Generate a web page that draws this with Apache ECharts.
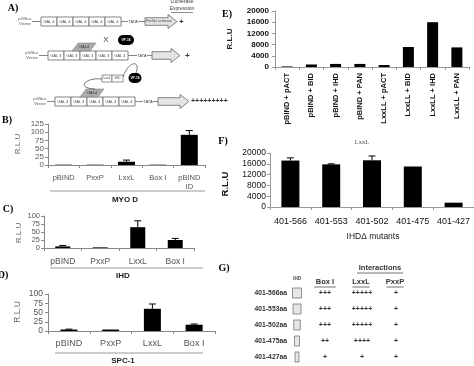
<!DOCTYPE html>
<html><head><meta charset="utf-8">
<script src="https://cdn.jsdelivr.net/npm/echarts@6/dist/echarts.min.js"></script>
<style>html,body{margin:0;padding:0;background:#fff}#c{width:474px;height:366px}</style>
</head><body><div id="c"></div>
<script>
// ---- data ----
const catsB = ['pBIND','PxxP','LxxL','Box I','pBIND\nID'];
const valsB = [1, 1, 10, 1, 92];
const errB  = [null, null, 15, null, 105];
const ticksB = [0, 25, 50, 75, 100, 125];

const catsC = ['pBIND','PxxP','LxxL','Box I'];
const valsC = [5, 2, 65, 25];
const errC  = [8, null, 85, 30];
const ticksC = [0, 25, 50, 75, 100];

const catsD = ['pBIND','PxxP','LxxL','Box I'];
const valsD = [4, 4, 60, 17];
const errD  = [5, null, 73, 19];
const ticksD = [0, 25, 50, 75, 100];

const catsE = ['pBIND + pACT','pBIND + BID','pBIND + IHD','pBIND + PAN','LxxLL + pACT','LxxLL + BID','LxxLL + IHD','LxxLL + PAN'];
const valsE = [200, 900, 1100, 1100, 700, 7150, 16000, 7000];
const ticksE = [0, 4000, 8000, 12000, 16000, 20000];

const catsF = ['401-566','401-553','401-502','401-475','401-427'];
const valsF = [17200, 15800, 17300, 15000, 1600];
const errF  = [18200, 16000, 18900, null, null];
const ticksF = [0, 4000, 8000, 12000, 16000, 20000];

const rowsG  = ['401-566aa','401-553aa','401-502aa','401-475aa','401-427aa'];
const boxIG  = ['+++','+++','+++','++','+'];
const lxxlG  = ['+++++','+++++','+++++','++++','+'];
const pxxpG  = ['+','+','+','+','+'];
const colsG  = ['Box I','LxxL','PxxP'];

// ---- chart ----
const chart = echarts.init(document.getElementById('c'), null, {renderer:'canvas'});
const SANS = 'Liberation Sans, Arial, sans-serif';
const SERIF = 'Liberation Serif, Times New Roman, serif';

function xAx(gi, cats, o) {
  return {type:'category', gridIndex:gi, data:cats, boundaryGap:true,
    axisLine:{show:true, lineStyle:{color:o.axisColor||'#888', width:1}},
    axisTick:{show:true, length:3, lineStyle:{color:o.axisColor||'#888'}},
    axisLabel:Object.assign({interval:0, color:o.color||'#555', fontSize:o.fs||8, fontFamily:SANS, margin:o.margin||8, lineHeight:o.lh||9, hideOverlap:false}, o.label||{})};
}
function yAx(gi, ticks, o) {
  return {type:'value', gridIndex:gi, min:ticks[0], max:ticks[ticks.length-1], interval:ticks[1]-ticks[0],
    axisLine:{show:true, lineStyle:{color:o.axisColor||'#888', width:1}},
    axisTick:{show:true, length:3, lineStyle:{color:o.axisColor||'#888'}},
    splitLine:{show:false},
    axisLabel:{color:o.color||'#555', fontSize:o.fs||8, lineHeight:o.lh||7, fontFamily:SANS, margin:o.margin||5, fontWeight:o.fw||'normal',
      formatter:(v) => String(v), showMinLabel:true, showMaxLabel:true, hideOverlap:false}};
}
function bars(i, vals, bw) {
  return {type:'bar', xAxisIndex:i, yAxisIndex:i, data:vals, barWidth:bw, itemStyle:{color:'#000'}, silent:true, animation:false};
}
function errs(i, vals, err) {
  const d = [];
  err.forEach((e, k) => { if (e != null) d.push([k, vals[k], e]); });
  return {type:'custom', xAxisIndex:i, yAxisIndex:i, data:d, z:5, animation:false, silent:true,
    renderItem:(params, api) => {
      const p0 = api.coord([api.value(0), api.value(1)]);
      const p1 = api.coord([api.value(0), api.value(2)]);
      const w = 3.5;
      return {type:'group', children:[
        {type:'line', shape:{x1:p0[0], y1:p0[1], x2:p1[0], y2:p1[1]}, style:{stroke:'#000', lineWidth:1}},
        {type:'line', shape:{x1:p1[0]-w, y1:p1[1], x2:p1[0]+w, y2:p1[1]}, style:{stroke:'#000', lineWidth:1}}
      ]};
    }};
}

// ---- diagram helpers (panel A) ----
const G = [];
function txt(x, y, s, o) {
  o = o || {};
  G.push({type:'text', x:x, y:y, rotation:o.rot||0, z:10, style:{text:s, fontSize:o.fs||8, fontFamily:o.ff||SANS, fontWeight:o.fw||'normal',
    fill:o.color||'#000', textAlign:o.align||'center', textVerticalAlign:'middle', lineHeight:o.lh}});
}
function line(x1, y1, x2, y2, c, w) {
  G.push({type:'line', shape:{x1, y1, x2, y2}, style:{stroke:c||'#666', lineWidth:w||0.8}});
}
function construct(x0, y0, vecX, tataX, arrX, arrLen, label, plusX, plusTxt) {
  const bw = 16, bh = 9, cy = y0 + bh/2;
  txt(vecX, cy, 'pG5luc\nVector', {fs:4.2, color:'#555', lh:4.6});
  line(vecX+7, cy, x0, cy);
  for (let k = 0; k < 5; k++) {
    G.push({type:'rect', shape:{x:x0+k*bw, y:y0, width:bw, height:bh}, style:{fill:'#fff', stroke:'#666', lineWidth:0.8}});
    txt(x0+k*bw+bw/2, cy, 'GAL 4', {fs:3.8, color:'#444'});
  }
  line(x0+5*bw, cy, tataX-5, cy);
  txt(tataX, cy, 'TATA', {fs:4, color:'#444'});
  line(tataX+5, cy, arrX, cy);
  const hb = 3.8, hh = 7, head = 9;
  G.push({type:'polygon', shape:{points:[[arrX, cy-hb],[arrX+arrLen-head, cy-hb],[arrX+arrLen-head, cy-hh],[arrX+arrLen, cy],
    [arrX+arrLen-head, cy+hh],[arrX+arrLen-head, cy+hb],[arrX, cy+hb]]}, style:{fill:'#e4e4e4', stroke:'#666', lineWidth:0.8}});
  if (label) txt(arrX+arrLen/2-2, cy, label, {fs:3.4, color:'#444'});
  txt(plusX, cy, plusTxt, {fs:plusTxt.length > 2 ? 7 : 8, color:'#333', align:'left', fw:'bold'});
}
function gal4(xb, yb) {
  G.push({type:'polygon', shape:{points:[[xb, yb],[xb+6, yb-8],[xb+24, yb-8],[xb+18, yb]]}, style:{fill:'#aaa', stroke:'#888', lineWidth:0.6}});
  txt(xb+12, yb-4, 'GAL4', {fs:4, color:'#333'});
}
function vp16(cx, cy, rx, ry) {
  G.push({type:'rect', shape:{x:cx-rx, y:cy-ry, width:2*rx, height:2*ry, r:ry}, style:{fill:'#000'}, z:10});
  txt(cx, cy, 'VP-16', {fs:3.3, color:'#fff', fw:'bold'});
}

// Panel A
txt(13, 8, 'A)', {fs:10, ff:SERIF, fw:'bold', align:'center'});
txt(182, 2, 'Luciferase', {fs:5, color:'#444'});
txt(182, 9, 'Expression', {fs:5, color:'#444'});
line(171, 12.5, 193, 12.5, '#444', 0.6);
construct(41, 17, 25, 133, 145, 32, 'Firefly Luciferase', 179, '+');
construct(48, 51, 32, 142, 152, 28, '', 185, '+');
gal4(72, 51);
txt(106, 40, 'X', {fs:8, color:'#444'});
vp16(126, 40, 8, 5);
construct(55, 97, 40, 148, 158, 31, '', 191, '+++++++++');
gal4(80, 97);
G.push({type:'bezierCurve', shape:{x1:95, y1:89, cpx1:75, cpy1:88, cpx2:86, cpy2:77, x2:102, y2:79}, style:{stroke:'#555', lineWidth:0.8, fill:null}});
G.push({type:'rect', shape:{x:102, y:75, width:10, height:7}, style:{fill:'#fff', stroke:'#666', lineWidth:0.7}});
G.push({type:'rect', shape:{x:112, y:75, width:11, height:7}, style:{fill:'#fff', stroke:'#666', lineWidth:0.7}});
txt(107, 78.5, 'LxxL', {fs:3.4, color:'#444'});
txt(117.5, 78.5, 'IHD', {fs:3.4, color:'#444'});
G.push({type:'bezierCurve', shape:{x1:123, y1:77, cpx1:129, cpy1:60, cpx2:141, cpy2:60, x2:136, y2:73}, style:{stroke:'#555', lineWidth:0.8, fill:null}});
vp16(135, 78, 6.5, 5);

// Panel labels and captions B/C/D
txt(7, 120, 'B)', {fs:10, ff:SERIF, fw:'bold'});
txt(18, 144, 'R.L.U', {fs:8, color:'#666', rot:Math.PI/2});
line(50, 191, 205, 191, '#999', 1);
txt(125, 200, 'MYO D', {fs:8, fw:'bold', color:'#222'});

txt(8, 209, 'C)', {fs:10, ff:SERIF, fw:'bold'});
txt(19, 233, 'R.L.U', {fs:8, color:'#666', rot:Math.PI/2});
line(50, 268, 203, 268, '#999', 1);
txt(123, 276, 'IHD', {fs:8, fw:'bold', color:'#222'});

txt(3, 275, 'D)', {fs:10, ff:SERIF, fw:'bold'});
txt(18, 312, 'R.L.U', {fs:8.5, color:'#666', rot:Math.PI/2});
line(55, 353, 203, 353, '#999', 1);
txt(123, 361, 'SPC-1', {fs:8, fw:'bold', color:'#222'});

// E / F labels
txt(227, 14, 'E)', {fs:10, ff:SERIF, fw:'bold'});
txt(230, 39, 'R.L.U', {fs:8, fw:'bold', color:'#222', rot:Math.PI/2});
txt(362, 142, 'LxxL', {fs:6.5, ff:SERIF, color:'#555'});

txt(223, 141, 'F)', {fs:10, ff:SERIF, fw:'bold'});
txt(225, 184, 'R.L.U', {fs:9.5, fw:'bold', color:'#111', rot:Math.PI/2});
txt(373, 237, 'IHD\u0394 mutants', {fs:8.5, color:'#222'});

// Panel G
txt(224, 268, 'G)', {fs:10, ff:SERIF, fw:'bold'});
txt(380, 268, 'Interactions', {fs:7.5, fw:'bold', color:'#333'});
line(357, 273, 403, 273, '#333', 0.7);
txt(297, 279, 'IHD', {fs:4.5, fw:'bold', color:'#444'});
const colX = [325, 361, 395];
colsG.forEach((c, k) => {
  txt(colX[k], 282, c, {fs:7.5, fw:'bold', color:'#333'});
  const w = c.length * 4.3;
  line(colX[k]-w/2, 287, colX[k]+w/2, 287, '#333', 0.7);
});
const rowY = [293, 309, 325, 341, 357];
const boxW = [9, 8, 6.5, 5, 4];
rowsG.forEach((r, k) => {
  txt(287, rowY[k], r, {fs:6.8, fw:'bold', color:'#333', align:'right'});
  G.push({type:'rect', shape:{x:297-boxW[k]/2, y:rowY[k]-5, width:boxW[k], height:10}, style:{fill:'#e6e6e6', stroke:'#666', lineWidth:0.7}});
  txt(colX[0], rowY[k], boxIG[k], {fs:7, fw:'bold', color:'#333'});
  txt(colX[1]+1, rowY[k], lxxlG[k], {fs:7, fw:'bold', color:'#333'});
  txt(colX[2]+1, rowY[k], pxxpG[k], {fs:7, fw:'bold', color:'#333'});
});

const option = {
  backgroundColor:'#fff',
  animation:false,
  grid:[
    {left:48, top:124, width:157, height:41},
    {left:44, top:216, width:150, height:32},
    {left:48, top:294, width:167, height:37},
    {left:275, top:11, width:194, height:56},
    {left:270, top:153, width:204, height:54}
  ],
  xAxis:[
    xAx(0, catsB, {fs:7.5, margin:8}),
    xAx(1, catsC, {fs:8.5, margin:9}),
    xAx(2, catsD, {fs:9, margin:8}),
    xAx(3, catsE, {fs:7.5, margin:6, color:'#111', axisColor:'#999', label:{rotate:90, fontWeight:'bold'}}),
    xAx(4, catsF, {fs:9, margin:10, color:'#111', axisColor:'#999'})
  ],
  yAxis:[
    yAx(0, ticksB, {fs:8, lh:7, margin:4}),
    yAx(1, ticksC, {fs:7.5, lh:7, margin:4}),
    yAx(2, ticksD, {fs:8.5, lh:8, margin:5}),
    yAx(3, ticksE, {fs:8, lh:9, margin:6, color:'#111', axisColor:'#999', fw:'bold'}),
    yAx(4, ticksF, {fs:8.5, lh:9, margin:4, color:'#111', axisColor:'#999'})
  ],
  series:[
    bars(0, valsB, 17), errs(0, valsB, errB),
    bars(1, valsC, 15), errs(1, valsC, errC),
    bars(2, valsD, 17), errs(2, valsD, errD),
    bars(3, valsE, 11),
    bars(4, valsF, 18), errs(4, valsF, errF)
  ],
  graphic:G
};
chart.setOption(option);
</script></body></html>
